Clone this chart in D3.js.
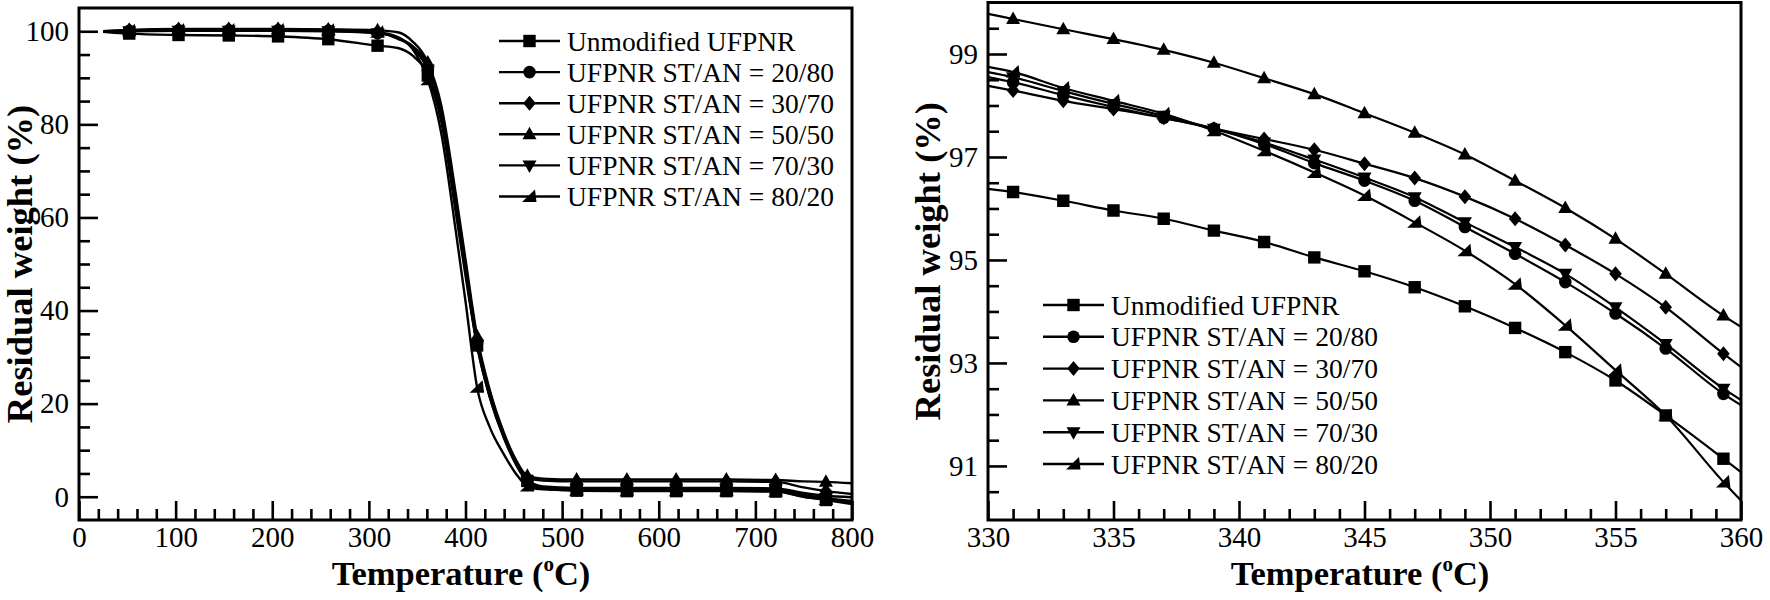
<!DOCTYPE html>
<html><head><meta charset="utf-8">
<script src="https://cdn.jsdelivr.net/npm/d3@7"></script>
<style>
body{margin:0;background:#fff}
svg{display:block}
text{font-family:"Liberation Serif","Times New Roman",serif;fill:#000}
</style>
</head><body>
<svg id="chart" width="1770" height="600"></svg>
<script>
// ---------------- DATA ----------------
const seriesNames = ["Unmodified UFPNR","UFPNR ST/AN = 20/80","UFPNR ST/AN = 30/70","UFPNR ST/AN = 50/50","UFPNR ST/AN = 70/30","UFPNR ST/AN = 80/20"];
const seriesSymbols = ["square","circle","diamond","triangleUp","triangleDown","triangleCorner"];

// Left panel: full TGA curves
const fullTemps = [25, 52, 103, 155, 206, 258, 309, 330, 345, 361, 375, 390, 400, 412, 425, 440, 452, 464, 480, 515, 567, 618, 670, 721, 750, 773, 800];
const fullMarkerTemps = [52, 103, 155, 206, 258, 309, 361, 412, 464, 515, 567, 618, 670, 721, 773];
const unmodFull = [99.9, 99.5, 99.2, 99.1, 98.9, 98.3, 96.9, 96.4, 94.8, 90.5, 80.5, 61.0, 47.5, 32.5, 21.5, 12.5, 7.2, 3.4, 1.8, 1.3, 1.2, 1.2, 1.2, 1.1, 0.0, -0.7, -1.6];
const s2080Full = [100.0, 100.1, 100.2, 100.2, 100.2, 100.1, 99.6, 98.55, 96.54, 91.7, 82.0, 63.0, 49.0, 33.0, 22.0, 13.0, 7.5, 3.6, 2.2, 1.9, 1.9, 1.9, 1.9, 1.8, 0.8, 0.2, -0.1];
const s3070Full = [100.0, 100.2, 100.4, 100.4, 100.4, 100.3, 99.8, 98.38, 96.87, 92.5, 83.0, 64.0, 50.0, 33.8, 22.5, 13.2, 7.8, 4.0, 3.5, 3.3, 3.3, 3.3, 3.3, 3.2, 2.0, 1.2, 0.6];
const s5050Full = [100.0, 100.3, 100.5, 100.5, 100.5, 100.4, 100.2, 99.78, 97.85, 93.3, 84.0, 65.0, 51.0, 34.5, 23.0, 13.6, 8.0, 4.5, 3.9, 3.7, 3.7, 3.7, 3.7, 3.6, 3.3, 3.2, 2.9];
const s7030Full = [100.0, 100.0, 100.1, 100.1, 100.1, 100.0, 99.6, 98.65, 96.6, 91.8, 81.5, 62.5, 48.5, 32.5, 21.5, 12.6, 7.0, 3.3, 2.0, 1.6, 1.6, 1.6, 1.6, 1.5, 0.4, -0.3, -0.9];
const s8020Full = [100.0, 100.1, 100.3, 100.3, 100.3, 100.2, 99.8, 98.75, 96.25, 89.6, 78.0, 57.0, 42.0, 23.5, 15.0, 9.0, 5.0, 2.3, 1.6, 1.4, 1.3, 1.3, 1.3, 1.2, 0.0, -0.6, -1.2];

// Right panel: 330-360 °C detail
const zoomTemps = [330, 331, 333, 335, 337, 339, 341, 343, 345, 347, 349, 351, 353, 355, 357, 359.3, 360];
const zoomMarkerTemps = [331, 333, 335, 337, 339, 341, 343, 345, 347, 349, 351, 353, 355, 357, 359.3];
const unmodZoom = [96.38, 96.32, 96.15, 95.96, 95.80, 95.57, 95.35, 95.05, 94.78, 94.47, 94.10, 93.68, 93.21, 92.66, 91.98, 91.14, 90.88];
const s2080Zoom = [98.55, 98.45, 98.20, 97.97, 97.76, 97.55, 97.25, 96.88, 96.54, 96.15, 95.64, 95.12, 94.57, 93.96, 93.28, 92.40, 92.18];
const s3070Zoom = [98.38, 98.29, 98.09, 97.93, 97.76, 97.55, 97.35, 97.14, 96.87, 96.59, 96.23, 95.80, 95.29, 94.73, 94.08, 93.18, 92.92];
const s5050Zoom = [99.78, 99.68, 99.48, 99.29, 99.08, 98.83, 98.53, 98.22, 97.85, 97.47, 97.05, 96.54, 96.01, 95.41, 94.73, 93.92, 93.70];
const s7030Zoom = [98.65, 98.55, 98.28, 98.03, 97.80, 97.55, 97.28, 96.95, 96.60, 96.22, 95.73, 95.25, 94.73, 94.08, 93.37, 92.50, 92.28];
const s8020Zoom = [98.75, 98.65, 98.34, 98.09, 97.84, 97.51, 97.12, 96.70, 96.25, 95.73, 95.18, 94.53, 93.73, 92.86, 91.98, 90.69, 90.33];

// Tick labels
const fullXTicks = [0, 100, 200, 300, 400, 500, 600, 700, 800];
const fullYTicks = [0, 20, 40, 60, 80, 100];
const zoomXTicks = [330, 335, 340, 345, 350, 355, 360];
const zoomYTicks = [91, 93, 95, 97, 99];
const xTitle = "Temperature (";
const xTitleSup = "o";
const xTitleEnd = "C)";
const yTitle = "Residual weight (%)";

// ---------------- DRAWING ----------------
const svg = d3.select("#chart");

function symbolPath(type, cx, cy) {
  const p = d3.path();
  if (type === "square") { const h = 6.2; p.rect(cx - h, cy - h, 2*h, 2*h); }
  else if (type === "circle") { p.moveTo(cx + 6.3, cy); p.arc(cx, cy, 6.3, 0, 2*Math.PI); }
  else if (type === "diamond") { p.moveTo(cx, cy - 7.5); p.lineTo(cx + 6.3, cy); p.lineTo(cx, cy + 7.5); p.lineTo(cx - 6.3, cy); p.closePath(); }
  else if (type === "triangleUp") { p.moveTo(cx, cy - 7.5); p.lineTo(cx + 7, cy + 5); p.lineTo(cx - 7, cy + 5); p.closePath(); }
  else if (type === "triangleDown") { p.moveTo(cx, cy + 7.5); p.lineTo(cx + 7, cy - 5); p.lineTo(cx - 7, cy - 5); p.closePath(); }
  else if (type === "triangleCorner") { p.moveTo(cx + 5.5, cy - 7); p.lineTo(cx + 7, cy + 5.5); p.lineTo(cx - 7.5, cy + 5.5); p.closePath(); }
  return p.toString();
}

function panel(cfg) {
  const g = svg.append("g");
  const x = d3.scaleLinear().domain(cfg.xDomain).range(cfg.xRange);
  const y = d3.scaleLinear().domain(cfg.yDomain).range(cfg.yRange);
  const [x0, x1] = cfg.xRange, [y0, y1] = cfg.yRange;

  const clipId = "clip" + cfg.id;
  g.append("clipPath").attr("id", clipId).append("rect")
    .attr("x", x0).attr("y", y1).attr("width", x1 - x0).attr("height", y0 - y1);

  const plot = g.append("g").attr("clip-path", `url(#${clipId})`);
  const line = d3.line().x(d => x(d[0])).y(d => y(d[1])).curve(cfg.curve);

  cfg.series.forEach((vals, i) => {
    const pts = cfg.temps.map((t, k) => [t, vals[k]]);
    plot.append("path").attr("d", line(pts)).attr("fill", "none")
      .attr("stroke", "#000").attr("stroke-width", cfg.lineWidth).attr("stroke-linejoin", "round");
  });
  cfg.series.forEach((vals, i) => {
    const pts = cfg.temps.map((t, k) => [t, vals[k]]).filter(d => cfg.markerTemps.includes(d[0]));
    plot.selectAll(null).data(pts).enter().append("path")
      .attr("d", d => symbolPath(seriesSymbols[i], x(d[0]), y(d[1])))
      .attr("fill", "#000");
  });

  // axes: minor and major ticks, pointing inward
  const ax = g.append("g").attr("transform", `translate(0,${y0})`);
  ax.call(d3.axisBottom(x).tickValues(cfg.xMinor).tickSize(-11).tickFormat(""));
  const axM = g.append("g").attr("transform", `translate(0,${y0})`);
  axM.call(d3.axisBottom(x).tickValues(cfg.xTicks).tickSize(-19).tickPadding(6.5).tickFormat(d3.format("d")));
  const ay = g.append("g").attr("transform", `translate(${x0},0)`);
  ay.call(d3.axisLeft(y).tickValues(cfg.yMinor).tickSize(-11).tickFormat(""));
  const ayM = g.append("g").attr("transform", `translate(${x0},0)`);
  ayM.call(d3.axisLeft(y).tickValues(cfg.yTicks).tickSize(-19).tickPadding(10).tickFormat(d3.format("d")));
  g.selectAll(".domain").remove();
  g.selectAll(".tick line").attr("stroke", "#000").attr("stroke-width", 2.6);
  g.selectAll(".tick text").attr("font-size", 29).attr("font-family", "Liberation Serif, Times New Roman, serif").attr("fill", "#000");

  // frame
  g.append("rect").attr("x", x0).attr("y", y1).attr("width", x1 - x0).attr("height", y0 - y1)
    .attr("fill", "none").attr("stroke", "#000").attr("stroke-width", 3);

  // titles
  const xt = g.append("text").attr("x", cfg.xTitleX).attr("y", 585).attr("text-anchor", "middle")
    .attr("font-size", 34.5).attr("font-weight", "bold");
  xt.append("tspan").text(xTitle);
  xt.append("tspan").text(xTitleSup).attr("font-size", 21).attr("dy", -14);
  xt.append("tspan").text(xTitleEnd).attr("dy", 14);

  g.append("text").attr("transform", `translate(${cfg.yTitleX},${(y0 + y1) / 2}) rotate(-90)`)
    .attr("text-anchor", "middle").attr("font-size", 36.5).attr("font-weight", "bold").text(yTitle);

  // legend
  const lg = g.append("g");
  seriesNames.forEach((name, i) => {
    const cy = cfg.legendY + i * cfg.legendStep;
    lg.append("line").attr("x1", cfg.legendX).attr("x2", cfg.legendX + 61).attr("y1", cy).attr("y2", cy)
      .attr("stroke", "#000").attr("stroke-width", 2.4);
    lg.append("path").attr("d", symbolPath(seriesSymbols[i], cfg.legendX + 30.5, cy)).attr("fill", "#000");
    lg.append("text").attr("x", cfg.legendX + 68).attr("y", cy + 9.5).attr("font-size", 27.5).text(name);
  });
}

function range(a, b, s) { const r = []; for (let v = a; v <= b + 1e-9; v += s) r.push(+v.toFixed(3)); return r; }

panel({
  id: "L", xDomain: [0, 800], xRange: [79, 852], yDomain: [-5, 105], yRange: [520, 8],
  temps: fullTemps, markerTemps: fullMarkerTemps,
  series: [unmodFull, s2080Full, s3070Full, s5050Full, s7030Full, s8020Full],
  curve: d3.curveMonotoneX, lineWidth: 2.4,
  xTicks: fullXTicks, xMinor: range(0, 800, 20).filter(v => v % 100 !== 0),
  yTicks: fullYTicks, yMinor: range(0, 100, 5).filter(v => v % 20 !== 0),
  xTitleX: 461, yTitleX: 32, legendX: 499, legendY: 41, legendStep: 31.1
});

panel({
  id: "R", xDomain: [330, 360], xRange: [988, 1741], yDomain: [89.95, 100], yRange: [520, 2.5],
  temps: zoomTemps, markerTemps: zoomMarkerTemps,
  series: [unmodZoom, s2080Zoom, s3070Zoom, s5050Zoom, s7030Zoom, s8020Zoom],
  curve: d3.curveMonotoneX, lineWidth: 2.2,
  xTicks: zoomXTicks, xMinor: range(330, 360, 1).filter(v => v % 5 !== 0),
  yTicks: zoomYTicks, yMinor: range(90.5, 99.5, 0.5).filter(v => !zoomYTicks.includes(v)),
  xTitleX: 1360, yTitleX: 940, legendX: 1043, legendY: 305, legendStep: 31.8
});
</script>
</body></html>
